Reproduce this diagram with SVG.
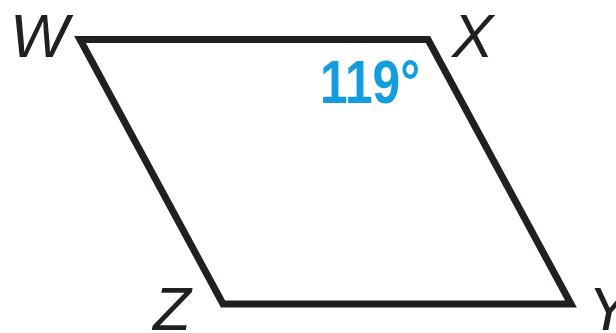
<svg xmlns="http://www.w3.org/2000/svg" width="616" height="333" viewBox="0 0 616 333">
<style>
.lbl{font-family:"Liberation Sans",Arial,sans-serif;font-style:italic;font-size:62px;fill:#231f20}
.ang{font-family:"Liberation Sans",Arial,sans-serif;font-weight:bold;font-size:62px;fill:#139ddf}
</style>
<rect width="616" height="333" fill="#fff"/>
<g id="edges">
<polygon points="80,39.5 428,39.5 571,304 223,304" fill="none" stroke="#231f20" stroke-width="7" stroke-linejoin="miter"/>
</g>
<g id="W"><text class="lbl" x="10" y="57">W</text></g>
<g id="X"><text class="lbl" x="452" y="57">X</text></g>
<g id="Y"><text class="lbl" x="588" y="330">Y</text></g>
<g id="Z"><text class="lbl" x="153" y="330">Z</text></g>
<g id="angle"><text class="ang" x="320" y="103" textLength="100" lengthAdjust="spacingAndGlyphs">119°</text></g>
</svg>
